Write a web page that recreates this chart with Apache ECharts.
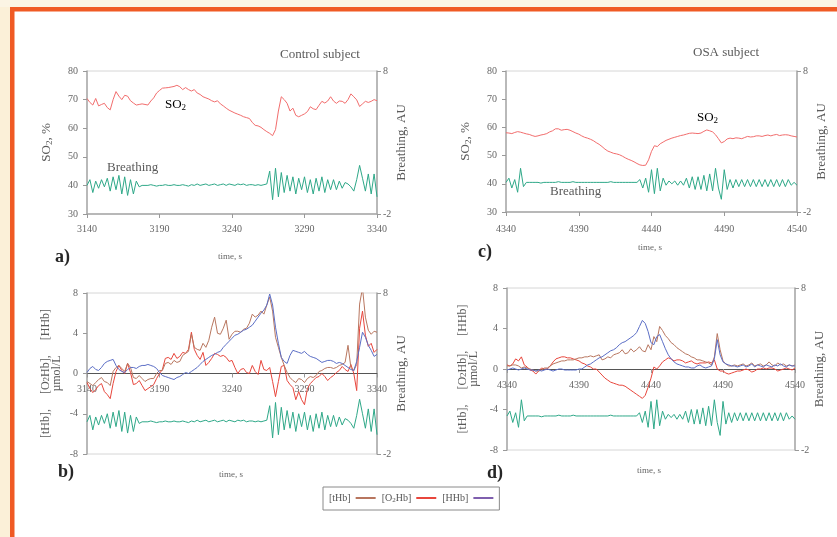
<!DOCTYPE html>
<html><head><meta charset="utf-8">
<script src="https://cdn.jsdelivr.net/npm/echarts@6/dist/echarts.min.js"></script>
<style>html,body{margin:0;padding:0;background:#fff}#c{width:837px;height:537px}</style>
</head><body><div id="c"></div>
<script>
// ---------- data (sampled every 2 s) ----------
const STEP = 2;
const startA = 3140;   // control subject window start
const startC = 4340;   // OSA subject window start
const xTicksA = [3140, 3190, 3240, 3290, 3340];
const xTicksC = [4340, 4390, 4440, 4490, 4540];
const so2Ticks = [30, 40, 50, 60, 70, 80];
const hbTicks = [-8, -4, 0, 4, 8];
const breathTicks = [-2, 8];

// a) control: SO2 (%)
const so2A = [70.4,69,68.1,70.4,67.8,68.3,68.7,67.2,66.4,70,
72.8,71.2,70,71.5,71.2,69.6,68.8,68.1,68.3,68.5,
68.3,68.1,69.5,70.6,72.3,73.2,74,74.1,74.2,74.4,
74.6,75,74.5,73.5,74.2,73.5,73,73.5,72.3,71.8,
71,70.6,70.2,69.6,69.2,69.6,68.5,67.8,67,66.3,
65.8,65.3,64.9,64.5,64,63.7,63.4,62,61,60.8,
60.3,59.5,58.8,58.2,57.4,59.5,66,71,70,68.7,
66,67,64.5,64,64.5,65,65.8,67.5,66.8,66.5,
68,69.4,68.8,69.5,71,69.5,68.7,69.5,69.4,68.7,
70,72,71,69.9,67.6,68.5,69.4,69,69.4,70,
69.6];
// control: breathing (AU)
const breathA = [0,0.4,-0.5,0.3,-0.2,0.4,-0.1,0.5,-0.4,0.6,
-0.3,0.7,-0.6,0.6,-0.7,0.4,-0.6,0.3,-0.1,0,
0,0,0.05,0,-0.05,0,0,0.05,0,0,
0.05,0,0,0.05,0,-0.05,0.05,0,0.1,0,
0.05,0.1,0,0.05,0.1,0,0.05,0.1,0,0.1,
0.05,0,0.1,0.05,0.1,0,0.05,0.05,0,0.05,
0,0.05,0.1,1.0,-1.0,1.2,-0.8,0.9,-0.5,0.7,
-0.4,0.6,-0.6,0.5,-0.3,0.6,-0.5,0.4,-0.6,0.5,
-0.4,0.6,-0.5,0.4,-0.3,0.4,-0.3,0.3,-0.2,0.2,
0.1,-0.1,-0.4,0.4,1.4,0.5,-0.4,0.8,-0.6,0.8,
-0.8];
// b) control: haemoglobin changes (umol/L)
const thbB = [-0.8,-1.0,-1.2,-0.9,-0.6,-0.4,-0.8,-0.9,-1.2,0.2,
0.6,0.8,0.5,0.2,1.0,0.6,-0.4,-0.5,-0.2,-0.5,
-0.8,-0.6,-0.5,-0.5,0.0,0.3,0.3,1.0,1.1,0.9,
1.3,1.1,1.2,1.8,2.0,2.2,3.9,2.6,2.4,2.3,
3.0,2.6,3.3,4.6,5.6,4.0,3.9,4.5,5.3,3.4,
3.9,4.2,4.2,4.1,4.4,4.5,5.0,5.9,5.6,5.8,
6.2,5.9,6.8,7.6,6.2,3.6,2.6,1.6,0.8,0.1,
-0.4,-0.7,-0.9,-0.5,-0.6,-0.9,-0.5,-0.3,-0.4,-0.2,
0.2,0.3,0.5,0.6,0.6,0.5,0.6,0.8,0.9,1.1,
2.8,0.6,0.3,0.9,6.9,8.5,5.6,4.3,3.9,4.2,
4.1];
const o2hbB = [-0.9,-1.5,-1.9,-1.6,-1.2,-1.0,-1.8,-2.1,-2.5,-1.0,
0.2,0.8,0.3,0.0,1.0,0.1,-1.1,-1.0,-0.7,-1.2,
-1.7,-1.5,-1.3,-1.1,-0.5,0.0,0.4,1.5,1.6,1.4,
2.0,1.5,1.7,2.1,2.0,2.4,4.1,2.4,1.8,1.4,
2.1,0.8,1.1,1.5,2.0,1.9,1.7,1.8,1.6,1.2,
1.3,0.6,0.0,0.4,0.5,0.1,0.0,0.8,0.2,-0.1,
1.3,0.4,0.3,0.6,-0.8,-2.3,-0.8,0.7,0.8,-0.7,
-1.1,-1.4,-2.6,-1.8,-2.6,-3.1,-1.5,-1.0,-0.7,-0.4,
-0.3,0.0,-0.3,-0.7,-0.4,-0.2,0.1,0.3,0.7,0.4,
0.2,0.9,0.0,-1.7,4.5,6.2,3.8,2.7,3.0,2.1,
2.4];
const hhbB = [0.1,0.5,0.7,0.4,0.3,0.6,1.0,1.2,1.3,1.4,
0.8,0.4,0.2,0.1,0.4,0.6,0.6,0.5,0.7,0.8,
0.8,0.9,0.8,0.7,0.5,0.1,-0.2,-0.3,-0.4,-0.5,
-0.6,-0.4,-0.3,-0.1,0.1,0.0,0.2,0.4,0.6,0.9,
1.2,1.4,1.6,1.8,1.9,2.1,2.2,2.6,2.9,3.2,
3.5,3.8,3.9,4.1,4.3,4.4,4.6,4.8,5.2,5.6,
6.0,6.3,6.8,7.9,6.8,4.6,3.0,1.6,1.2,1.0,
1.8,2.3,2.2,2.1,2.0,2.2,1.9,1.7,1.6,1.5,
1.3,1.1,1.2,1.3,1.3,1.2,1.0,1.1,1.0,0.8,
0.6,0.4,0.3,1.2,2.6,4.1,3.6,2.8,2.3,1.7,
1.9];
// c) OSA: SO2 (%)
const so2C = [58.1,58.0,57.8,58.2,58.5,58.3,58.0,57.7,57.5,57.1,
56.8,57.0,57.3,57.5,57.8,58.4,58.8,59.5,59.5,59.0,
59.2,59.3,59.0,58.5,58.0,57.6,57.0,56.5,56.2,55.8,
55.3,54.6,54.0,53.2,52.3,51.6,51.2,50.8,50.6,50.3,
49.8,49.2,48.7,48.3,47.8,47.2,46.7,46.5,46.6,48.5,
51.5,53.5,53.2,54.2,54.8,55.4,55.8,56.2,56.5,56.8,
57.1,57.3,57.6,57.9,58.0,57.9,57.8,58.0,58.6,59.1,
58.8,58.4,57.4,56.0,54.5,55.0,55.9,56.2,56.0,56.3,
56.2,56.0,56.4,56.8,56.6,56.7,57.0,57.0,56.8,57.1,
57.3,57.0,57.3,57.5,57.1,57.3,57.4,57.3,57.0,56.8,
56.6];
// OSA: breathing (AU) – same recording in c) and d)
const breathC = [0.1,0.4,-0.3,0.3,-0.6,1.1,-0.2,0.1,0.1,0.1,
0.1,0.1,0.05,0.1,0.1,0.1,0.1,0.1,0.15,0.1,
0.1,0.1,0.1,0.15,0.1,0.1,0.1,0.1,0.1,0.1,
0.1,0.1,0.1,0.1,0.1,0.1,0.15,0.1,0.1,0.1,
0.1,0.1,0.1,0.1,0.1,0.1,0.3,-0.3,0.4,-0.6,
1.0,-0.7,1.1,-0.5,0.4,-0.1,0.2,0,0.2,-0.1,
0.2,-0.1,0.4,-0.3,0.5,-0.4,0.5,-0.4,0.6,-0.5,
0.7,-0.5,1.1,-0.3,-1.1,1.0,-0.4,0.3,-0.3,0.3,
-0.2,0.3,-0.2,0.3,-0.2,0.3,-0.2,0.3,-0.2,0.3,
-0.2,0.3,-0.2,0.3,-0.2,0.3,-0.2,0.3,-0.1,0.1,
-0.1];
// d) OSA: haemoglobin changes (umol/L)
const thbD = [0.3,0.3,0.4,0.4,0.3,0.1,0.2,0.1,0.0,-0.1,
-0.2,-0.2,-0.1,0.1,0.1,0.3,0.5,0.6,0.7,0.8,
0.8,0.9,0.9,0.9,1.0,1.1,1.1,1.2,1.2,1.3,
1.2,1.3,1.4,0.9,1.0,1.2,1.1,1.4,1.5,1.6,
1.9,1.5,1.6,2.0,1.7,1.9,2.2,1.8,1.7,2.4,
1.9,3.2,2.7,4.2,3.8,3.3,3.0,2.6,2.4,2.1,
1.9,1.7,1.5,1.4,1.2,1.1,0.9,0.9,0.8,0.7,
0.6,0.4,1.2,3.5,1.9,0.8,0.5,0.3,0.3,0.4,
0.3,0.4,0.5,0.3,0.4,0.6,0.3,0.4,0.5,0.3,
0.4,0.7,0.4,0.3,0.6,0.4,0.5,0.3,0.4,0.3,
0.4];
const o2hbD = [0.4,0.3,0.5,1.0,0.8,1.2,0.4,0.2,-0.1,-0.2,
-0.5,-0.2,0.1,0.0,0.0,0.3,0.7,1.0,1.1,1.2,
1.2,1.1,1.1,1.0,0.9,0.8,0.6,0.5,0.3,0.2,
0.0,0.0,-0.3,-0.6,-0.9,-1.1,-1.3,-1.4,-1.5,-1.6,
-1.6,-1.7,-1.9,-2.1,-2.3,-2.5,-2.7,-2.9,-2.6,-1.8,
-0.9,0.2,0.0,0.3,0.7,0.9,1.1,1.0,0.8,0.9,
0.9,0.8,0.6,0.7,0.8,0.6,0.5,0.6,0.6,0.6,
0.7,0.6,0.9,0.0,-0.2,-0.2,-0.4,-0.5,-0.4,-0.3,
-0.2,-0.2,-0.1,0.0,-0.1,-0.3,-0.2,0.0,0.0,0.1,
0.0,0.1,0.1,0.0,-0.2,-0.1,0.0,0.1,0.0,-0.1,
0.1];
const hhbD = [-0.1,0,0.1,0,-0.1,0,0.1,0,-0.1,-0.1,
-0.2,-0.1,-0.2,-0.1,0,-0.1,-0.2,-0.1,0,0,
-0.1,-0.1,-0.1,-0.1,-0.1,0,0,0.2,0.4,0.5,
0.7,0.9,1.1,1.2,1.4,1.6,1.8,1.9,2.1,2.4,
2.6,2.7,2.9,3.1,3.3,3.6,4.2,4.8,4.5,3.7,
2.6,2.4,3.2,3.4,2.7,2.0,1.4,1.0,0.7,0.5,
0.4,0.3,0.2,0.2,0.1,0.1,0.3,0.4,0.2,0.1,
0.2,0.3,1.0,2.9,1.4,0.7,0.5,0.4,0.3,0.3,
0.2,0.3,0.4,0.2,0.3,0.5,0.2,0.4,0.3,0.2,
0.4,0.3,0.2,0.4,0.3,0.5,0.3,0.2,0.4,0.3,
0.3];

// ---------- styling ----------
const FONT = 'Liberation Serif';
const TXT = '#5a5a5a';
const C_SO2 = '#f26d6d', C_BR = '#2ea888', C_THB = '#b8765f', C_O2 = '#e8463c', C_HHB = '#5b6ec6';
const pairs = (start, arr) => arr.map((v, i) => [start + i * STEP, v]);
const plain = v => String(v);
const sub = {n: {fontFamily: FONT, fontSize: 13, color: TXT, lineHeight: 15},
             s: {fontFamily: FONT, fontSize: 9, color: TXT, verticalAlign: 'bottom'}};

// offset: pixels that lift the time axis up to the zero line of the left axis (panels b, d)
function xAx(grid, min, max, ticks, margin, offset) {
  const onZeroLine = offset != null;
  return {type: 'value', gridIndex: grid, min, max, position: 'bottom', offset: onZeroLine ? offset : 0,
    axisLine: {onZero: false, lineStyle: onZeroLine ? {color: '#555', width: 1.2} : {color: '#a8a8a8', width: 1.5}},
    axisTick: {customValues: ticks, length: 4, lineStyle: {color: '#999'}},
    axisLabel: {customValues: ticks, margin, formatter: plain, fontFamily: FONT, fontSize: 10, color: '#666'},
    splitLine: {show: false}};
}
function yLeft(grid, min, max, interval, name, gap) {
  return {type: 'value', gridIndex: grid, position: 'left', min, max, interval,
    axisLine: {show: true, onZero: false, lineStyle: {color: '#a8a8a8', width: 1.5}},
    axisTick: {show: true, length: 4, lineStyle: {color: '#999'}},
    axisLabel: {margin: 9, formatter: plain, fontFamily: FONT, fontSize: 10, color: '#666'},
    splitLine: {show: false},
    name, nameLocation: 'middle', nameRotate: 90, nameGap: gap,
    nameTextStyle: {fontFamily: FONT, fontSize: 12, color: TXT, lineHeight: 11, rich: sub}};
}
function yRight(grid, gap) {
  return {type: 'value', gridIndex: grid, position: 'right', min: -2, max: 8,
    axisLine: {show: true, onZero: false, lineStyle: {color: '#a8a8a8', width: 1.5}},
    axisTick: {show: true, customValues: breathTicks, length: 4, lineStyle: {color: '#999'}},
    axisLabel: {customValues: breathTicks, margin: 6, formatter: plain, fontFamily: FONT, fontSize: 10, color: '#666'},
    splitLine: {show: false},
    name: 'Breathing, AU', nameLocation: 'middle', nameRotate: 90, nameGap: gap,
    nameTextStyle: {fontFamily: FONT, fontSize: 13, color: TXT}};
}
function line(name, data, x, y, color, w) {
  return {type: 'line', name, data, xAxisIndex: x, yAxisIndex: y, showSymbol: false, symbol: 'none',
    silent: true, animation: false, lineStyle: {color, width: w || 1}, itemStyle: {color}};
}
const hbName = '[tHb],     [O{s|2}Hb],     [HHb]\nµmol/L';
const gridStyle = {show: true, borderColor: '#d6d6d6', borderWidth: 1, backgroundColor: 'transparent'};

function txt(x, y, text, size) {
  return {type: 'text', x, y, z: 50, silent: true,
    style: {text, fontFamily: FONT, fontSize: size, fill: TXT, textAlign: 'left', textVerticalAlign: 'middle'}};
}
function so2Label(x, y) {
  return {type: 'text', x, y, z: 50, silent: true,
    style: {text: '{n|SO}{s|2}', rich: sub, textAlign: 'left', textVerticalAlign: 'middle'}};
}
function panel(x, y, t) {
  return {type: 'text', x, y, z: 50, silent: true,
    style: {text: t, fontFamily: FONT, fontSize: 18, fontWeight: 'bold', fill: '#262626', textAlign: 'left', textVerticalAlign: 'middle'}};
}
function timeLbl(x, y) {
  return {type: 'text', x, y, z: 50, silent: true,
    style: {text: 'time, s', fontFamily: FONT, fontSize: 9, fill: '#666', textAlign: 'center', textVerticalAlign: 'middle'}};
}

const option = {
  backgroundColor: '#ffffff',
  animation: false,
  grid: [
    Object.assign({left: 87, top: 71, width: 290, height: 143}, gridStyle),
    Object.assign({left: 87, top: 293, width: 290, height: 161}, gridStyle),
    Object.assign({left: 506, top: 71, width: 291, height: 141}, gridStyle),
    Object.assign({left: 507, top: 288, width: 288, height: 162}, gridStyle)
  ],
  xAxis: [
    xAx(0, xTicksA[0], xTicksA[4], xTicksA, 10, null),
    xAx(1, xTicksA[0], xTicksA[4], xTicksA, 11, -80.5),
    xAx(2, xTicksC[0], xTicksC[4], xTicksC, 12, null),
    xAx(3, xTicksC[0], xTicksC[4], xTicksC, 11, -81)
  ],
  yAxis: [
    yLeft(0, so2Ticks[0], so2Ticks[5], 10, '{n|SO}{s|2}{n|, %}', 33),
    yRight(0, 10),
    yLeft(1, hbTicks[0], hbTicks[4], 4, hbName, 25),
    yRight(1, 10),
    yLeft(2, so2Ticks[0], so2Ticks[5], 10, '{n|SO}{s|2}{n|, %}', 33),
    yRight(2, 5),
    yLeft(3, hbTicks[0], hbTicks[4], 4, hbName, 28),
    yRight(3, 12)
  ],
  legend: {
    data: [
      {name: '[tHb]', itemStyle: {color: C_THB}},
      {name: '[O2Hb]', itemStyle: {color: C_O2}},
      {name: '[HHb]', itemStyle: {color: '#7f5fae'}}
    ],
    left: 323, top: 487, align: 'right', orient: 'horizontal',
    icon: 'rect', itemWidth: 20, itemHeight: 2, itemGap: 6,
    padding: [6, 6, 6, 6], borderColor: '#8a8a8a', borderWidth: 1, selectedMode: false,
    formatter: n => n === '[O2Hb]' ? '{t|[O}{s|2}{t|Hb]}' : '{t|' + n + '}',
    textStyle: {fontFamily: FONT, fontSize: 10, color: '#555',
      rich: {t: {fontFamily: FONT, fontSize: 10, color: '#555', lineHeight: 12},
             s: {fontFamily: FONT, fontSize: 7, color: '#555', verticalAlign: 'bottom'}}}
  },
  graphic: [
    {type: 'rect', z: 0, silent: true, shape: {x: 0, y: 0, width: 10, height: 537}, style: {fill: '#fbf0d8'}},
    {type: 'rect', z: 0, silent: true, shape: {x: 0, y: 0, width: 837, height: 7}, style: {fill: '#fbf4e4'}},
    {type: 'rect', z: 60, silent: true, shape: {x: 10, y: 7, width: 827, height: 4.5}, style: {fill: '#f05a24'}},
    {type: 'rect', z: 60, silent: true, shape: {x: 10, y: 7, width: 4.5, height: 530}, style: {fill: '#f05a24'}},
    txt(280, 55, 'Control subject', 13),
    txt(693, 53, 'OSA subject', 13),
    so2Label(165, 105),
    txt(107, 168, 'Breathing', 13),
    so2Label(697, 118),
    txt(550, 192, 'Breathing', 13),
    panel(55, 257, 'a)'),
    panel(58, 472, 'b)'),
    panel(478, 252, 'c)'),
    panel(487, 473, 'd)'),
    timeLbl(230, 257),
    timeLbl(231, 475),
    timeLbl(650, 248),
    timeLbl(649, 471)
  ],
  series: [
    line('SO2 control', pairs(startA, so2A), 0, 0, C_SO2),
    line('Breathing control', pairs(startA, breathA), 0, 1, C_BR),
    line('Breathing control b', pairs(startA, breathA), 1, 3, C_BR),
    line('[O2Hb]', pairs(startA, o2hbB), 1, 2, C_O2),
    line('[tHb]', pairs(startA, thbB), 1, 2, C_THB),
    line('[HHb]', pairs(startA, hhbB), 1, 2, C_HHB),
    line('SO2 OSA', pairs(startC, so2C), 2, 4, C_SO2),
    line('Breathing OSA', pairs(startC, breathC), 2, 5, C_BR),
    line('Breathing OSA d', pairs(startC, breathC), 3, 7, C_BR),
    line('[O2Hb]', pairs(startC, o2hbD), 3, 6, C_O2),
    line('[tHb]', pairs(startC, thbD), 3, 6, C_THB),
    line('[HHb]', pairs(startC, hhbD), 3, 6, C_HHB)
  ]
};
const chart = echarts.init(document.getElementById('c'), null, {renderer: 'canvas'});
chart.setOption(option);
</script></body></html>
